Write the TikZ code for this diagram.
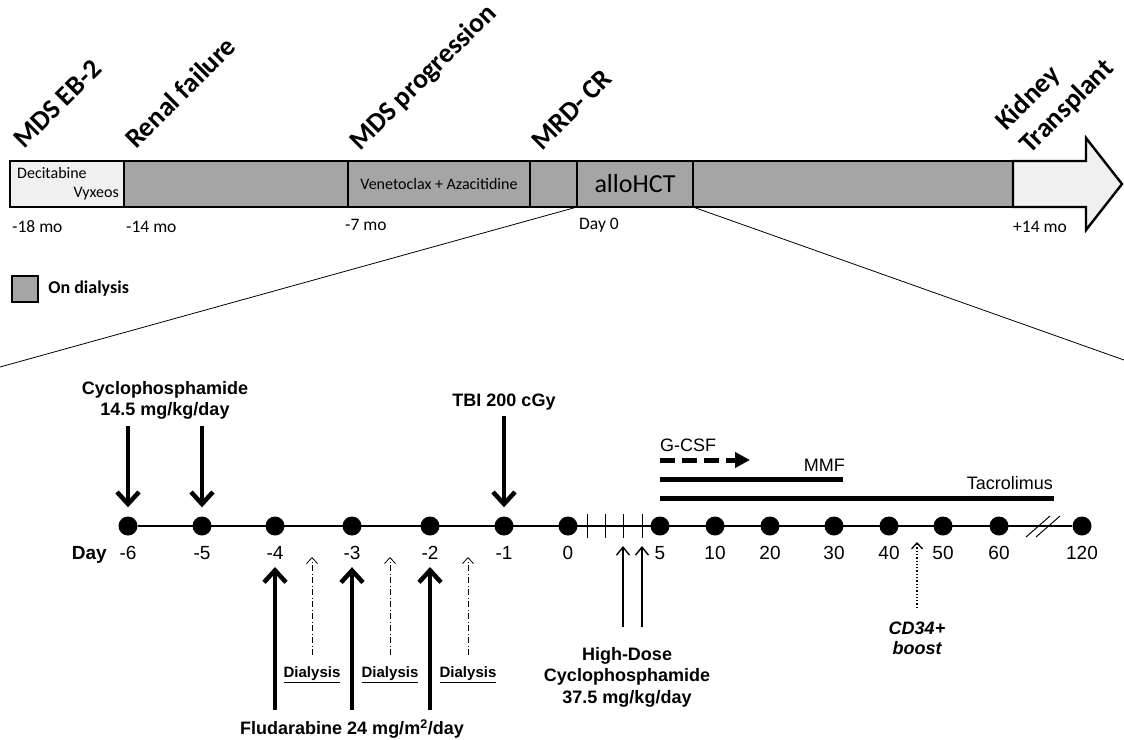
\documentclass[tikz,border=0pt]{standalone}
\usepackage{fontspec}
\usepackage{tikz}
\usetikzlibrary{arrows.meta, positioning}
\newfontfamily\calibfont{Carlito}
\newfontfamily\arialfont{Liberation Sans}
\definecolor{dialgray}{HTML}{A5A5A5}
\definecolor{paleshade}{HTML}{F0F0F0}

\begin{document}
\begin{tikzpicture}[
  x=1pt, y=-1pt,
  phase/.style={draw, line width=2.4pt, fill=dialgray, minimum height=46pt, inner sep=0pt,
    outer sep=0pt, font=\calibfont\fontsize{16}{19}\selectfont},
  event/.style={rotate=45, anchor=base west, inner sep=0pt,
    font=\calibfont\bfseries\fontsize{27.5}{32}\selectfont},
  month/.style={anchor=west, inner sep=0pt, font=\calibfont\fontsize{17.5}{20}\selectfont},
  day/.style={circle, fill, inner sep=0pt, minimum size=19pt},
  daynum/.style={anchor=base, inner sep=0pt, font=\arialfont\fontsize{19}{22}\selectfont},
  drug/.style={align=center, inner sep=0pt, font=\arialfont\bfseries\fontsize{18}{21.7}\selectfont},
  plain/.style={inner sep=0pt, font=\arialfont\fontsize{18}{22}\selectfont},
  dosearrow/.style={line width=4.5pt, -{Straight Barb[length=12pt, width=22pt]}},
  thinarrow/.style={line width=1.4pt, -{Straight Barb[length=8pt, width=13pt]}},
  dialarrow/.style={line width=0.8pt, dash pattern=on 6pt off 2.5pt on 1pt off 2.5pt,
    -{Straight Barb[length=6pt, width=11pt]}},
  bar/.style={line width=5pt}
]
\useasboundingbox (0,0) rectangle (1124,739);

% timeline before and after transplant
\node[phase, fill=paleshade, minimum width=114pt, anchor=west] (deci) at (10,184) {};
\node[phase, minimum width=224pt, right=0pt of deci] (renal) {};
\node[phase, minimum width=182pt, right=0pt of renal] (vene) {Venetoclax + Azacitidine};
\node[phase, minimum width=47pt, right=0pt of vene] (mrd) {};
\node[phase, minimum width=116pt, right=0pt of mrd, font=\calibfont\fontsize{26}{30}\selectfont] (hct) {alloHCT};
\node[phase, minimum width=320pt, right=0pt of hct] (post) {};
\draw[line width=2.4pt, fill=paleshade] (post.north east) -- (1086,161) -- (1086,138)
  -- (1122,184) -- (1086,230) -- (1086,207) -- (post.south east) -- cycle;

\node[month, font=\calibfont\fontsize{16}{19}\selectfont] (decitxt) at (17,173) {Decitabine};
\node[month, anchor=east, font=\calibfont\fontsize{16}{19}\selectfont] (vyxtxt) at (119,194) {Vyxeos};

\node[month] (mo18) at (12,227) {-18 mo};
\node[month] (mo14) at (126,227) {-14 mo};
\node[month] (mo7) at (345,225) {-7 mo};
\node[month] (day0) at (579,225) {Day 0};
\node[month] (mo14p) at (1013,227) {+14 mo};

\node[event] (ebtwo) at (24,150) {MDS EB-2};
\node[event] (renalfail) at (136,150) {Renal failure};
\node[event] (prog) at (360,152) {MDS progression};
\node[event] (mrdcr) at (542,152) {MRD- CR};
\node[event] (kidney) at (1006,132) {Kidney};
\node[event] (transpl) at (1030,155) {Transplant};

% legend
\node[draw, line width=2.4pt, fill=dialgray, minimum size=26pt, inner sep=0pt] (legbox) at (25,289) {};
\node[right=9pt of legbox, inner sep=0pt, font=\calibfont\bfseries\fontsize{18}{22}\selectfont] (legtxt) {On dialysis};

% zoom lines
\coordinate (zoomleft) at (0,367);
\coordinate (zoomright) at (1124,360);
\draw[line width=0.8pt] (hct.south west) -- (zoomleft);
\draw[line width=0.8pt] (hct.south east) -- (zoomright);

% day timeline
\foreach \n/\x/\lab in {m6/128/-6, m5/202/-5, m4/275/-4, m3/352/-3, m2/430/-2, m1/504/-1,
    p0/568/0, p5/660/5, p10/715/10, p20/770/20, p30/834/30, p40/889/40, p50/943/50,
    p60/999/60, p120/1082/120} {
  \node[day] (d\n) at (\x,526) {};
  \node[daynum] (l\n) at (\x,559.8) {\lab};
}
\draw[line width=1.6pt] (dm6) -- (dp120);
\node[daynum, anchor=base east, font=\arialfont\bfseries\fontsize{19}{22}\selectfont] (daylab) at (107,559.8) {Day};

\foreach \i/\x in {1/587, 2/605, 3/623, 4/642} {
  \coordinate (t\i) at (\x,526);
  \draw[line width=1pt] (\x,514) -- (\x,538);
}
\draw[line width=1pt] (1026,537) -- (1050,516);
\draw[line width=1pt] (1036,537) -- (1060,516);

% conditioning
\node[drug, anchor=north] (cyc) at (165,381) {Cyclophosphamide\\14.5 mg/kg/day};
\foreach \n in {m6, m5}
  \draw[dosearrow, shorten <=6pt, shorten >=9pt] (d\n |- cyc.south) -- (d\n.north);

\node[drug, anchor=base] (tbi) at (504,406.5) {TBI 200 cGy};
\draw[dosearrow, shorten <=6pt, shorten >=9pt] (tbi.south) -- (dm1.north);

\node[drug, anchor=base] (flu) at (352,734.5) {Fludarabine 24 mg/m\textsuperscript{2}/day};
\foreach \n in {m4, m3, m2}
  \draw[dosearrow, shorten >=7pt] (d\n |- 0,710) -- (l\n.south);

\foreach \i/\x in {1/312, 2/390, 3/468} {
  \node[drug, anchor=base, font=\arialfont\bfseries\fontsize{15}{18}\selectfont] (dial\i) at (\x,677.5) {\underline{Dialysis}};
  \draw[dialarrow] (dial\i |- 0,655) -- (dial\i |- 0,557);
}

% after transplant
\node[drug, anchor=north] (hdcy) at (627,647) {High-Dose\\Cyclophosphamide\\37.5 mg/kg/day};
\foreach \i in {3,4}
  \draw[thinarrow] (t\i |- 0,627) -- (t\i |- 0,546);

\node[plain, anchor=west] (gcsf) at (660,445) {G-CSF};
\coordinate (gcsfend) at (750,460);
\draw[line width=5pt, dash pattern=on 15pt off 7pt, -{Triangle[length=15pt, width=15pt]}] (dp5 |- gcsfend) -- (gcsfend);

\node[plain, anchor=east] (mmf) at (845,465) {MMF};
\coordinate (mmfend) at (843,479);
\draw[bar] (dp5 |- mmfend) -- (mmfend);

\node[plain, anchor=east] (tacro) at (1053,483) {Tacrolimus};
\coordinate (tacroend) at (1054,498);
\draw[bar] (dp5 |- tacroend) -- (tacroend);

\node[drug, anchor=north, font=\arialfont\bfseries\itshape\fontsize{18}{20}\selectfont] (cd) at (917,621.6) {CD34+\\boost};
\draw[line width=1.3pt, dotted, -{Straight Barb[length=6pt, width=11pt]}] (cd |- 0,608) -- (cd |- 0,542);
\end{tikzpicture}
\end{document}
